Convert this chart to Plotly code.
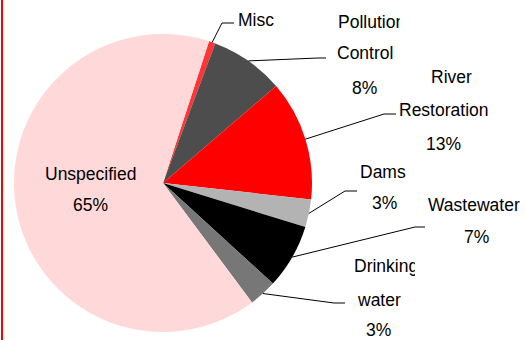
import math
import plotly.graph_objects as go

# Spending breakdown (percent), in clockwise order
categories = ["Misc", "Pollution Control", "River Restoration", "Dams",
              "Wastewater", "Drinking water", "Unspecified"]
values = [0.7, 8, 13, 3, 7, 3, 65]
label_lines = {
    "Misc": ["Misc"],
    "Pollution Control": ["Pollution", "Control", "8%"],
    "River Restoration": ["River", "Restoration", "13%"],
    "Dams": ["Dams", "3%"],
    "Wastewater": ["Wastewater", "7%"],
    "Drinking water": ["Drinking", "water", "3%"],
    "Unspecified": ["Unspecified", "65%"],
}
colors = ["#FF3535", "#4D4D4D", "#FF0000", "#B3B3B3", "#000000", "#777777", "#FFD9D9"]

W, H = 525, 340
CX, CY, R = 163, 183, 149      # pie centre and radius in pixels
ROTATION = 18                  # start angle of first slice, clockwise from 12 o'clock
FONT = dict(family="Liberation Sans, Arial, sans-serif", size=17.5, color="#000000")


def px(x, y):
    return x / W, 1 - y / H


# label layout: line centres (x, y) and leader elbow/end points in pixels
label_layout = {
    "Misc": dict(lines=[(256, 20)], elbow=(222, 23), end=(234, 23)),
    "Pollution Control": dict(lines=[(365, 22), (365, 53), (364, 88)],
                              elbow=(318, 58), end=(326, 58), clip={0: (337, 62)}),
    "River Restoration": dict(lines=[(451, 77), (444, 110), (443, 144)],
                              elbow=(384, 114), end=(396, 114)),
    "Dams": dict(lines=[(383, 172), (384, 203)], elbow=(345, 191), end=(357, 191)),
    "Wastewater": dict(lines=[(474, 205), (476, 237)], elbow=(415, 227), end=(425, 227)),
    "Drinking water": dict(lines=[(383, 266), (379, 300), (378, 330)],
                           elbow=(334, 303), end=(345, 303), clip={0: (353, 61)}),
    "Unspecified": dict(lines=[(90, 174), (90, 205)]),
}

fig = go.Figure(go.Pie(
    labels=categories,
    values=values,
    sort=False,
    direction="clockwise",
    rotation=ROTATION,
    marker=dict(colors=colors, line=dict(width=0)),
    textinfo="none",
    hoverinfo="label+value",
    showlegend=False,
    domain=dict(x=[(CX - R) / W, (CX + R) / W],
                y=[(H - CY - R) / H, (H - CY + R) / H]),
))

total = sum(values)
shapes = []
annotations = []
cum = 0.0
for cat, val in zip(categories, values):
    mid = ROTATION + 360 * (cum + val / 2) / total
    cum += val
    lay = label_layout[cat]
    # leader line from the slice's outer edge to the label
    if "elbow" in lay:
        a = math.radians(mid)
        ex, ey = CX + R * math.sin(a), CY - R * math.cos(a)
        pts = [(ex, ey), lay["elbow"], lay["end"]]
        for (x0, y0), (x1, y1) in zip(pts[:-1], pts[1:]):
            p0, p1 = px(x0, y0), px(x1, y1)
            shapes.append(dict(type="line", xref="paper", yref="paper",
                               x0=p0[0], y0=p0[1], x1=p1[0], y1=p1[1],
                               line=dict(color="#000000", width=1)))
    clip = lay.get("clip", {})
    for i, (text, (lx, ly)) in enumerate(zip(label_lines[cat], lay["lines"])):
        if i in clip:
            left, width = clip[i]
            x, y = px(left, ly)
            annotations.append(dict(text=text, x=x, y=y, xref="paper", yref="paper",
                                    xanchor="left", yanchor="middle", showarrow=False,
                                    width=width, align="left", font=FONT, borderpad=0))
        else:
            x, y = px(lx, ly)
            annotations.append(dict(text=text, x=x, y=y, xref="paper", yref="paper",
                                    xanchor="center", yanchor="middle", showarrow=False,
                                    font=FONT, borderpad=0))

# red rule down the left edge
shapes.append(dict(type="line", xref="paper", yref="paper",
                   x0=2 / W, x1=2 / W, y0=0, y1=1,
                   line=dict(color="#FF0000", width=2)))

fig.update_layout(
    width=W, height=H,
    margin=dict(l=0, r=0, t=0, b=0),
    paper_bgcolor="#FFFFFF",
    plot_bgcolor="#FFFFFF",
    shapes=shapes,
    annotations=annotations,
)

fig.write_html("out.html")
